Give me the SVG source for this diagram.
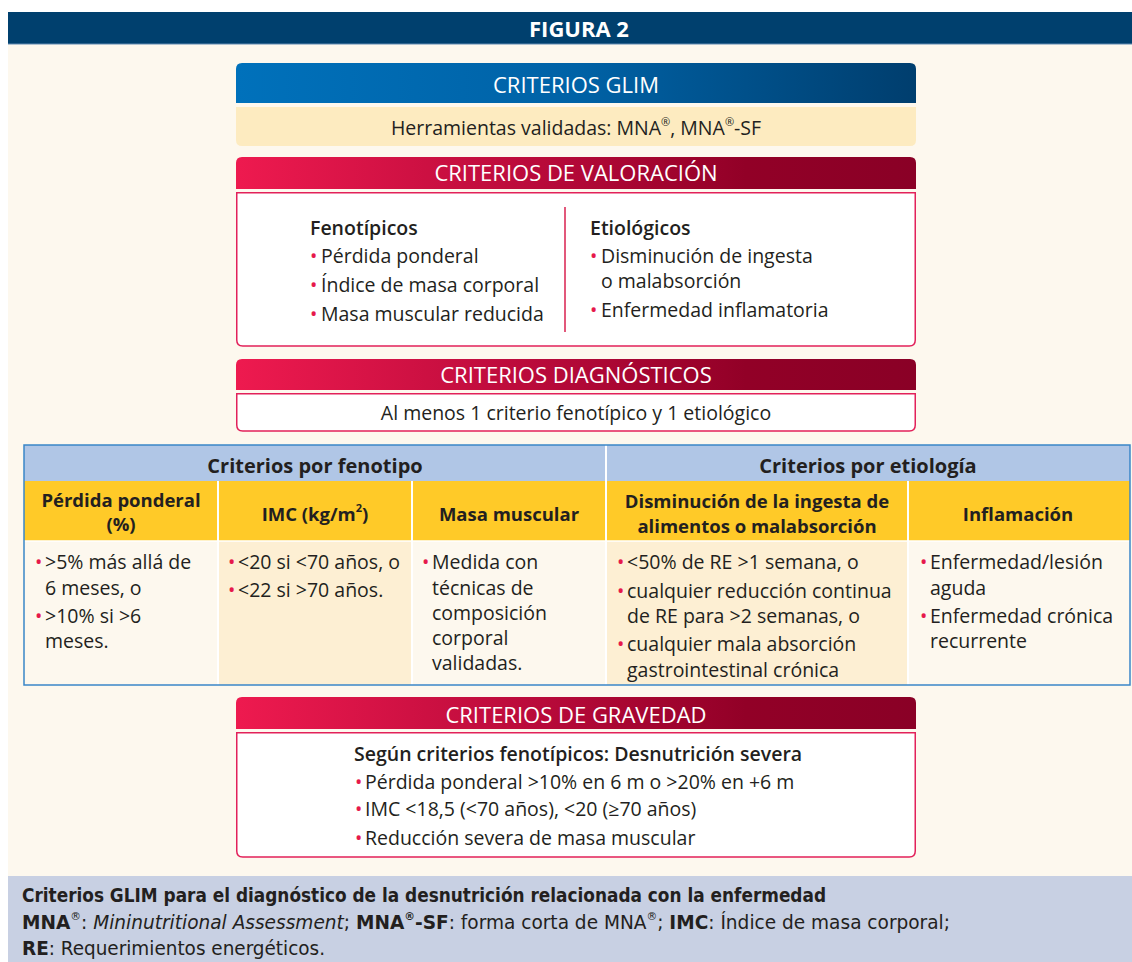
<svg xmlns="http://www.w3.org/2000/svg" width="1132" height="962" viewBox="0 0 1132 962">
<defs>
<linearGradient id="gBlue" x1="0" y1="0" x2="1" y2="0"><stop offset="0" stop-color="#0071BB"/><stop offset="0.5" stop-color="#0062A6"/><stop offset="1" stop-color="#003E6E"/></linearGradient>
<linearGradient id="gRed" x1="0" y1="0" x2="1" y2="0"><stop offset="0" stop-color="#EE1A4F"/><stop offset="0.45" stop-color="#B80A3A"/><stop offset="0.75" stop-color="#920027"/><stop offset="1" stop-color="#8A0026"/></linearGradient>
<style>
text{font-family:"Open Sans","Noto Sans",sans-serif;fill:#231F20;}
.hd{fill:#fff;font-size:22px;text-anchor:middle;dominant-baseline:central;}
.t{font-size:19.5px;dominant-baseline:central;}
.c{text-anchor:middle;}
.b{font-weight:600;}
.bx{fill:#fff;stroke:#E2215A;stroke-width:1.5;}
.bul{fill:#E6194B;}
.th{font-size:18.5px;font-weight:700;text-anchor:middle;dominant-baseline:central;}
.th2{font-size:20px;font-weight:700;text-anchor:middle;dominant-baseline:central;}
.td{font-size:19.5px;dominant-baseline:central;}
.ft{font-family:"Liberation Sans Narrow","DejaVu Sans Condensed","Open Sans",sans-serif;font-size:19px;dominant-baseline:central;}
.sup{font-size:11px;}
</style>
</defs>
<rect x="0" y="0" width="1132" height="962" fill="#fff"/>
<rect x="8" y="44" width="1124" height="832" fill="#FDF8EE"/>
<g id="banner">
<rect x="8" y="12" width="1124" height="32" fill="#00406E"/>
<line x1="8" y1="44" x2="1132" y2="44" stroke="#5E88B0" stroke-width="1"/>
<text x="579" y="28" class="hd" style="font-weight:700;font-size:22px">FIGURA 2</text>
</g>
<g id="connectors"/>
<g id="glim">
<path d="M236,103 V69 Q236,63 242,63 H910 Q916,63 916,69 V103 Z" fill="url(#gBlue)"/>
<text x="576" y="84" class="hd">CRITERIOS GLIM</text>
<path d="M236,107 H916 V140 Q916,146 910,146 H242 Q236,146 236,140 Z" fill="#FDEBC0"/>
<text x="576" y="127" class="t c">Herramientas validadas: MNA<tspan class="sup" dy="-6">®</tspan><tspan dy="6">, MNA</tspan><tspan class="sup" dy="-6">®</tspan><tspan dy="6">-SF</tspan></text>
</g>
<g id="valoracion">
<path d="M236,189 V163 Q236,157 242,157 H910 Q916,157 916,163 V189 Z" fill="url(#gRed)"/>
<text x="576" y="172" class="hd">CRITERIOS DE VALORACIÓN</text>
<path class="bx" d="M236.75,192.75 H915.25 V340 Q915.25,346 909.25,346 H242.75 Q236.75,346 236.75,340 Z"/>
<line x1="565" y1="207" x2="565" y2="332" stroke="#D8204F" stroke-width="1.5"/>
<text x="310" y="227" class="t b">Fenotípicos</text>
<text x="310" y="255" class="t"><tspan class="bul">•</tspan><tspan x="321">Pérdida ponderal</tspan></text>
<text x="310" y="284" class="t"><tspan class="bul">•</tspan><tspan x="321">Índice de masa corporal</tspan></text>
<text x="310" y="313" class="t"><tspan class="bul">•</tspan><tspan x="321">Masa muscular reducida</tspan></text>
<text x="590" y="227" class="t b">Etiológicos</text>
<text x="590" y="255" class="t"><tspan class="bul">•</tspan><tspan x="601">Disminución de ingesta</tspan></text>
<text x="601" y="280" class="t">o malabsorción</text>
<text x="590" y="309" class="t"><tspan class="bul">•</tspan><tspan x="601">Enfermedad inflamatoria</tspan></text>
</g>
<g id="diagnosticos">
<path d="M236,390 V365 Q236,359 242,359 H910 Q916,359 916,365 V390 Z" fill="url(#gRed)"/>
<text x="576" y="374" class="hd">CRITERIOS DIAGNÓSTICOS</text>
<path class="bx" d="M236.75,393.75 H915.25 V425 Q915.25,431 909.25,431 H242.75 Q236.75,431 236.75,425 Z"/>
<text x="576" y="412" class="t c">Al menos 1 criterio fenotípico y 1 etiológico</text>
</g>
<g id="tabla">
<rect x="24" y="445" width="1106" height="36" fill="#B0C6E6"/>
<rect x="24" y="481" width="1106" height="60" fill="#FFCA28"/>
<rect x="24" y="541" width="194" height="144" fill="#FDF8EE"/>
<rect x="218" y="541" width="194" height="144" fill="#FDEFD3"/>
<rect x="412" y="541" width="194" height="144" fill="#FDF8EE"/>
<rect x="606" y="541" width="302" height="144" fill="#FDEFD3"/>
<rect x="908" y="541" width="222" height="144" fill="#FDF8EE"/>
<g stroke="#fff" stroke-width="2">
<line x1="606" y1="445" x2="606" y2="685"/>
<line x1="218" y1="481" x2="218" y2="685"/>
<line x1="412" y1="481" x2="412" y2="685"/>
<line x1="908" y1="481" x2="908" y2="685"/>
<line x1="24" y1="541" x2="1130" y2="541" stroke-width="1.5"/>
</g>
<rect x="24" y="445" width="1106" height="240" fill="none" stroke="#3A86C8" stroke-width="1.5"/>
<text x="315" y="465" class="th2">Criterios por fenotipo</text>
<text x="868" y="465" class="th2">Criterios por etiología</text>
<text x="121" y="499" class="th">Pérdida ponderal</text>
<text x="121" y="523" class="th">(%)</text>
<text x="315" y="513" class="th">IMC (kg/m<tspan class="sup" dy="-6">2</tspan><tspan dy="6">)</tspan></text>
<text x="509" y="513" class="th">Masa muscular</text>
<text x="757" y="500" class="th">Disminución de la ingesta de</text>
<text x="757" y="525" class="th">alimentos o malabsorción</text>
<text x="1018" y="513" class="th">Inflamación</text>
<text x="35" y="561" class="td"><tspan class="bul">•</tspan><tspan x="45">&gt;5% más allá de</tspan></text>
<text x="45" y="587" class="td">6 meses, o</text>
<text x="35" y="615" class="td"><tspan class="bul">•</tspan><tspan x="45">&gt;10% si &gt;6</tspan></text>
<text x="45" y="640" class="td">meses.</text>
<text x="228" y="561" class="td"><tspan class="bul">•</tspan><tspan x="238">&lt;20 si &lt;70 años, o</tspan></text>
<text x="228" y="589" class="td"><tspan class="bul">•</tspan><tspan x="238">&lt;22 si &gt;70 años.</tspan></text>
<text x="422" y="561" class="td"><tspan class="bul">•</tspan><tspan x="432">Medida con</tspan></text>
<text x="432" y="587" class="td">técnicas de</text>
<text x="432" y="612" class="td">composición</text>
<text x="432" y="637" class="td">corporal</text>
<text x="432" y="662" class="td">validadas.</text>
<text x="617" y="561" class="td"><tspan class="bul">•</tspan><tspan x="627">&lt;50% de RE &gt;1 semana, o</tspan></text>
<text x="617" y="590" class="td"><tspan class="bul">•</tspan><tspan x="627">cualquier reducción continua</tspan></text>
<text x="627" y="615" class="td">de RE para &gt;2 semanas, o</text>
<text x="617" y="643" class="td"><tspan class="bul">•</tspan><tspan x="627">cualquier mala absorción</tspan></text>
<text x="627" y="669" class="td">gastrointestinal crónica</text>
<text x="920" y="561" class="td"><tspan class="bul">•</tspan><tspan x="930">Enfermedad/lesión</tspan></text>
<text x="930" y="587" class="td">aguda</text>
<text x="920" y="615" class="td"><tspan class="bul">•</tspan><tspan x="930">Enfermedad crónica</tspan></text>
<text x="930" y="640" class="td">recurrente</text>
</g>
<g id="gravedad">
<path d="M236,729 V703 Q236,697 242,697 H910 Q916,697 916,703 V729 Z" fill="url(#gRed)"/>
<text x="576" y="714" class="hd">CRITERIOS DE GRAVEDAD</text>
<path class="bx" d="M236.75,732.75 H915.25 V851 Q915.25,857 909.25,857 H242.75 Q236.75,857 236.75,851 Z"/>
<text x="354" y="753" class="t b">Según criterios fenotípicos: Desnutrición severa</text>
<text x="355" y="781" class="t"><tspan class="bul">•</tspan><tspan x="365">Pérdida ponderal &gt;10% en 6 m o &gt;20% en +6 m</tspan></text>
<text x="355" y="808" class="t"><tspan class="bul">•</tspan><tspan x="365">IMC &lt;18,5 (&lt;70 años), &lt;20 (≥70 años)</tspan></text>
<text x="355" y="837" class="t"><tspan class="bul">•</tspan><tspan x="365">Reducción severa de masa muscular</tspan></text>
</g>
<g id="footer">
<rect x="8" y="876" width="1124" height="86" fill="#C8D0E3"/>
<text x="22" y="895" class="ft" font-weight="700" textLength="804" lengthAdjust="spacingAndGlyphs">Criterios GLIM para el diagnóstico de la desnutrición relacionada con la enfermedad</text>
<text x="22" y="922" class="ft" textLength="928" lengthAdjust="spacingAndGlyphs"><tspan font-weight="700">MNA</tspan><tspan class="sup" dy="-6">®</tspan><tspan dy="6">: </tspan><tspan font-style="italic">Mininutritional Assessment</tspan><tspan>; </tspan><tspan font-weight="700">MNA</tspan><tspan class="sup" font-weight="700" dy="-6">®</tspan><tspan font-weight="700" dy="6">-SF</tspan><tspan>: forma corta de MNA</tspan><tspan class="sup" dy="-6">®</tspan><tspan dy="6">; </tspan><tspan font-weight="700">IMC</tspan><tspan>: Índice de masa corporal;</tspan></text>
<text x="22" y="948" class="ft" textLength="303" lengthAdjust="spacingAndGlyphs"><tspan font-weight="700">RE</tspan><tspan>: Requerimientos energéticos.</tspan></text>
</g>
</svg>
